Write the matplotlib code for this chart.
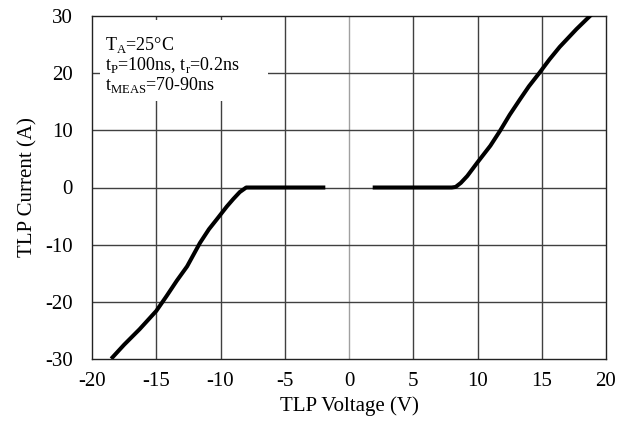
import numpy as np
import matplotlib.pyplot as plt

plt.rcParams['font.family'] = ['Liberation Serif', 'DejaVu Serif']
plt.rcParams['axes.unicode_minus'] = False

# TLP I-V curve
v_neg = [-18.4, -17.5, -16.3, -15.0, -14.2, -13.4, -12.6, -11.6, -10.9, -10.3, -9.5, -9.0, -8.5, -8.0, -2.0]
i_neg = [-29.7, -27.5, -24.8, -21.6, -19.0, -16.3, -13.8, -9.7, -7.3, -5.6, -3.3, -2.0, -0.8, 0.0, 0.0]
v_pos = [2.0, 8.0, 8.3, 8.7, 9.2, 10.0, 11.0, 11.75, 12.5, 13.3, 14.0, 14.8, 15.6, 16.4, 17.7, 18.75]
i_pos = [0.0, 0.0, 0.1, 0.8, 2.0, 4.4, 7.3, 9.9, 12.7, 15.4, 17.7, 20.0, 22.4, 24.6, 27.7, 30.0]

xticks = [-20, -15, -10, -5, 0, 5, 10, 15, 20]
yticks = [-30, -20, -10, 0, 10, 20, 30]

fig = plt.figure(figsize=(6.18, 4.26), dpi=100)
ax = fig.add_axes([92/618, 1-359/426, (606-92)/618, (359-16)/426])

for x in xticks[1:-1]:
    ax.axvline(x, color='#a0a0a0' if x == 0 else '#404040', lw=1.0, zorder=1)
for y in yticks[1:-1]:
    ax.axhline(y, color='#404040', lw=1.0, zorder=1)

ax.plot(v_neg, i_neg, color='black', lw=2.9, solid_joinstyle='round', zorder=3)
ax.plot(v_pos, i_pos, color='black', lw=2.9, solid_joinstyle='round', zorder=3)

ax.set_xlim(-20, 20)
ax.set_ylim(-30, 30)
ax.set_xticks(xticks)
ax.set_yticks(yticks)
ax.tick_params(length=0, labelsize=15, pad=9)
ax.tick_params(axis='y', pad=14)
for s in ax.spines.values():
    s.set_color('#222222')
    s.set_linewidth(1.0)

ax.set_xlabel('TLP Voltage (V)', fontsize=15, labelpad=4)
ax.set_ylabel('TLP Current (A)', fontsize=15, labelpad=5)

# white box behind the conditions text
ax.add_patch(plt.Rectangle((-19.4, 15.2), 13.1, 14.1, facecolor='white',
                           edgecolor='none', zorder=2))
ax.text(-19.0, 25.0, r'T$_\mathregular{A}$=25°C', fontsize=13, va='center', zorder=4)
ax.text(-19.0, 21.4, r't$_\mathregular{P}$=100ns, t$_\mathregular{r}$=0.2ns', fontsize=13, va='center', zorder=4)
ax.text(-19.0, 17.9, r't$_\mathregular{MEAS}$=70-90ns', fontsize=13, va='center', zorder=4)

plt.savefig('out.png', dpi=100)
